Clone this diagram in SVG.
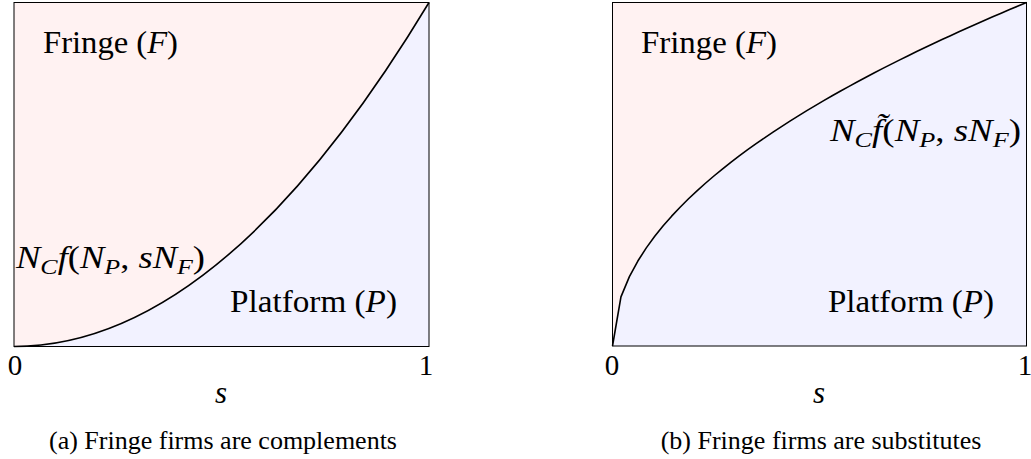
<svg xmlns="http://www.w3.org/2000/svg" width="1031" height="459" viewBox="0 0 1031 459">
<style>
text{font-family:"Liberation Serif","Times New Roman",serif;fill:#000}
.lbl{font-size:31px}
.num{font-size:29px}
.cap{font-size:26px}
.i{font-style:italic}
.sub{font-size:22px;font-style:italic}
.box{stroke:none;fill:#fff2f2}
.frame{fill:none;stroke:#000;stroke-width:1}
.under{fill:#f2f2ff;stroke:none}
.curve{fill:none;stroke:#000;stroke-width:1.6;stroke-linejoin:round}
</style>
<g id="panel-a">
  <rect class="box" x="14" y="2.5" width="415" height="344"/>
  <path class="under" d="M14,346.5 Q221.5,346.5 429,2.5 V346.5 Z"/>
  <rect class="frame" x="14" y="2.5" width="415" height="344"/>
  <text class="lbl" x="43" y="53" textLength="135" lengthAdjust="spacingAndGlyphs">Fringe (<tspan class="i">F</tspan>)</text>
  <text class="lbl" x="16" y="268" textLength="189" lengthAdjust="spacingAndGlyphs"><tspan class="i">N</tspan><tspan class="sub" dy="6">C</tspan><tspan class="i" dy="-6">f</tspan>(<tspan class="i">N</tspan><tspan class="sub" dy="6">P</tspan><tspan dy="-6">, </tspan><tspan class="i">sN</tspan><tspan class="sub" dy="6">F</tspan><tspan dy="-6">)</tspan></text>
  <text class="lbl" x="230" y="312" textLength="167" lengthAdjust="spacingAndGlyphs">Platform (<tspan class="i">P</tspan>)</text>
  <text class="num" x="15" y="375" text-anchor="middle">0</text>
  <text class="num" x="426" y="375" text-anchor="middle">1</text>
  <text class="lbl i" x="221" y="403" text-anchor="middle">s</text>
  <text class="cap" x="223" y="449" text-anchor="middle">(a) Fringe firms are complements</text>
</g>
<g id="panel-b">
  <rect class="box" x="612.5" y="2.5" width="414" height="343.5"/>
  <path class="under" d="M612.5,346 L620.95,296.93 629.40,276.60 637.85,261.01 646.30,247.86 654.74,236.27 663.19,225.80 671.64,216.17 680.09,207.21 688.54,198.79 696.99,190.82 705.44,183.25 713.89,176.01 722.34,169.07 730.79,162.39 739.23,155.95 747.68,149.71 756.13,143.67 764.58,137.81 773.03,132.10 781.48,126.55 789.93,121.13 798.38,115.83 806.83,110.66 815.28,105.60 823.72,100.64 832.17,95.78 840.62,91.02 849.07,86.34 857.52,81.74 865.97,77.22 874.42,72.78 882.87,68.41 891.32,64.11 899.77,59.87 908.21,55.69 916.66,51.57 925.11,47.51 933.56,43.50 942.01,39.55 950.46,35.65 958.91,31.79 967.36,27.98 975.81,24.22 984.26,20.50 992.70,16.82 1001.15,13.18 1009.60,9.58 1018.05,6.02 1026.5,2.5 V346 Z"/>
  <rect class="frame" x="612.5" y="2.5" width="414" height="343.5"/>
  <text class="lbl" x="641" y="53" textLength="136" lengthAdjust="spacingAndGlyphs">Fringe (<tspan class="i">F</tspan>)</text>
  <text class="lbl" x="830" y="141" textLength="191" lengthAdjust="spacingAndGlyphs"><tspan class="i">N</tspan><tspan class="sub" dy="6">C</tspan><tspan class="i" dy="-6">f̃</tspan>(<tspan class="i">N</tspan><tspan class="sub" dy="6">P</tspan><tspan dy="-6">, </tspan><tspan class="i">sN</tspan><tspan class="sub" dy="6">F</tspan><tspan dy="-6">)</tspan></text>
  <text class="lbl" x="828" y="312" textLength="166" lengthAdjust="spacingAndGlyphs">Platform (<tspan class="i">P</tspan>)</text>
  <text class="num" x="612" y="375" text-anchor="middle">0</text>
  <text class="num" x="1025" y="375" text-anchor="middle">1</text>
  <text class="lbl i" x="819" y="403" text-anchor="middle">s</text>
  <text class="cap" x="821" y="449" text-anchor="middle">(b) Fringe firms are substitutes</text>
</g>
<g id="connectors">
  <path class="curve" d="M14,346.5 Q221.5,346.5 429,2.5"/>
  <polyline class="curve" points="612.5,346 620.95,296.93 629.40,276.60 637.85,261.01 646.30,247.86 654.74,236.27 663.19,225.80 671.64,216.17 680.09,207.21 688.54,198.79 696.99,190.82 705.44,183.25 713.89,176.01 722.34,169.07 730.79,162.39 739.23,155.95 747.68,149.71 756.13,143.67 764.58,137.81 773.03,132.10 781.48,126.55 789.93,121.13 798.38,115.83 806.83,110.66 815.28,105.60 823.72,100.64 832.17,95.78 840.62,91.02 849.07,86.34 857.52,81.74 865.97,77.22 874.42,72.78 882.87,68.41 891.32,64.11 899.77,59.87 908.21,55.69 916.66,51.57 925.11,47.51 933.56,43.50 942.01,39.55 950.46,35.65 958.91,31.79 967.36,27.98 975.81,24.22 984.26,20.50 992.70,16.82 1001.15,13.18 1009.60,9.58 1018.05,6.02 1026.5,2.5"/>
</g>
</svg>
